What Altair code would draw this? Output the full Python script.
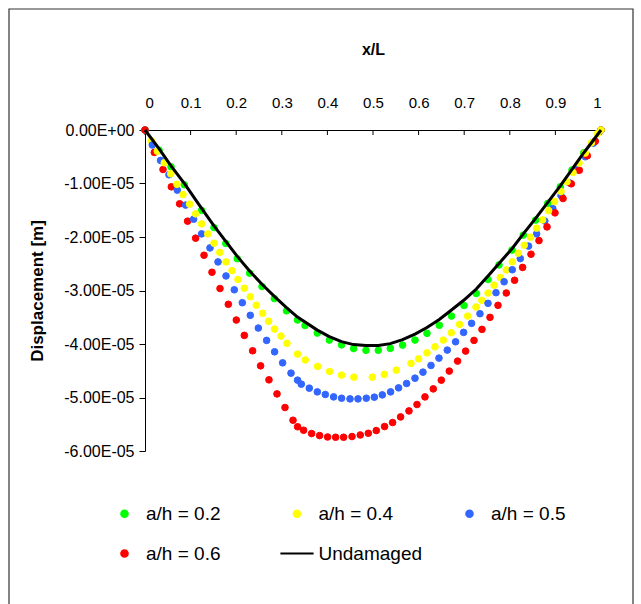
import altair as alt
import pandas as pd

# ---------------- data (displacements in units of 1e-5 m) ----------------
SCALE = 1e-5

x_02 = [0.0, 0.0307, 0.057, 0.0862, 0.1241, 0.1513, 0.1772, 0.2024, 0.2294, 0.2566,
        0.2836, 0.3103, 0.3344, 0.3509, 0.3779, 0.4042, 0.4309, 0.4575, 0.4846, 0.5116,
        0.5379, 0.5649, 0.5921, 0.6184, 0.6454, 0.6721, 0.6996, 0.7265, 0.7522, 0.7763,
        0.8048, 0.8296, 0.8566, 0.8833, 0.9107, 0.9364, 0.9623, 0.9816, 1.0]
y_02 = [0.0, -0.375, -0.689, -1.024, -1.502, -1.824, -2.120, -2.406, -2.676, -2.925,
        -3.150, -3.380, -3.552, -3.655, -3.796, -3.927, -4.017, -4.086, -4.118, -4.118,
        -4.082, -4.021, -3.927, -3.801, -3.650, -3.478, -3.281, -3.056, -2.794, -2.522,
        -2.245, -1.964, -1.684, -1.371, -1.062, -0.747, -0.425, -0.232, 0.0]

x_04 = [0.0, 0.0138, 0.027, 0.0423, 0.0566, 0.070, 0.0833, 0.0978, 0.111, 0.1241,
        0.1377, 0.1513, 0.164, 0.1776, 0.1908, 0.2039, 0.2178, 0.2309, 0.2441, 0.2579,
        0.2711, 0.2842, 0.2982, 0.3114, 0.3346, 0.3515, 0.3785, 0.4048, 0.4311, 0.4579,
        0.4985, 0.5248, 0.5511, 0.5833, 0.600, 0.6184, 0.636, 0.6542, 0.6717, 0.6899,
        0.7075, 0.7259, 0.7386, 0.7522, 0.7656, 0.7792, 0.7923, 0.8055, 0.8186, 0.8318,
        0.8456, 0.8588, 0.8719, 0.8851, 0.8982, 0.9123, 0.9254, 0.9386, 0.9518, 0.9656,
        0.9787, 0.9925, 1.0]
y_04 = [0.0, -0.200, -0.397, -0.612, -0.818, -1.015, -1.206, -1.386, -1.567, -1.755,
        -1.942, -2.116, -2.288, -2.466, -2.629, -2.794, -2.957, -3.116, -3.275, -3.427,
        -3.575, -3.721, -3.852, -3.987, -4.189, -4.298, -4.419, -4.513, -4.582, -4.620,
        -4.620, -4.569, -4.489, -4.363, -4.277, -4.165, -4.052, -3.927, -3.790, -3.633,
        -3.478, -3.309, -3.184, -3.047, -2.901, -2.757, -2.616, -2.463, -2.303, -2.154,
        -2.004, -1.835, -1.680, -1.506, -1.337, -1.150, -0.968, -0.794, -0.618, -0.431,
        -0.243, -0.069, 0.0]

x_05 = [0.0, 0.016, 0.0342, 0.0526, 0.0708, 0.089, 0.1066, 0.1241, 0.1425, 0.1601,
        0.1776, 0.1958, 0.2134, 0.2309, 0.2485, 0.2667, 0.2842, 0.3018, 0.3202, 0.3346,
        0.3428, 0.3603, 0.3779, 0.3954, 0.4136, 0.4311, 0.4496, 0.4671, 0.4853, 0.5029,
        0.5204, 0.5386, 0.5561, 0.5737, 0.5921, 0.6096, 0.6272, 0.6447, 0.6629, 0.6811,
        0.6987, 0.7162, 0.7346, 0.7522, 0.7697, 0.7875, 0.8055, 0.823, 0.8412, 0.8588,
        0.8768, 0.8943, 0.9123, 0.9305, 0.948, 0.9656, 0.9831, 1.0]
y_05 = [0.0, -0.281, -0.569, -0.837, -1.124, -1.404, -1.667, -1.942, -2.204, -2.466,
        -2.728, -2.987, -3.228, -3.464, -3.702, -3.933, -4.146, -4.352, -4.545, -4.676,
        -4.751, -4.826, -4.895, -4.944, -4.989, -5.013, -5.026, -5.026, -5.013, -4.994,
        -4.951, -4.895, -4.820, -4.738, -4.639, -4.526, -4.401, -4.264, -4.114, -3.959,
        -3.783, -3.614, -3.434, -3.240, -3.041, -2.837, -2.612, -2.404, -2.170, -1.942,
        -1.702, -1.468, -1.225, -0.987, -0.743, -0.500, -0.247, 0.0]

x_06 = [0.0, 0.0204, 0.0395, 0.0577, 0.0759, 0.0934, 0.111, 0.1294, 0.1469, 0.1645,
        0.1827, 0.2002, 0.2178, 0.236, 0.2535, 0.2719, 0.2895, 0.307, 0.3246, 0.3346,
        0.3478, 0.3654, 0.3829, 0.4004, 0.418, 0.4355, 0.454, 0.4721, 0.4897, 0.5072,
        0.5254, 0.543, 0.5605, 0.5789, 0.5965, 0.614, 0.6322, 0.6498, 0.6673, 0.6855,
        0.7031, 0.7215, 0.739, 0.7566, 0.7741, 0.7923, 0.8105, 0.8281, 0.8465, 0.864,
        0.8816, 0.8991, 0.9167, 0.9349, 0.9524, 0.970, 0.9875, 1.0]
y_06 = [0.0, -0.419, -0.738, -1.062, -1.380, -1.704, -2.022, -2.341, -2.659, -2.963,
        -3.258, -3.552, -3.839, -4.127, -4.408, -4.670, -4.933, -5.187, -5.425, -5.547,
        -5.612, -5.674, -5.712, -5.738, -5.743, -5.743, -5.730, -5.700, -5.669, -5.618,
        -5.543, -5.468, -5.363, -5.251, -5.131, -4.989, -4.839, -4.676, -4.507, -4.320,
        -4.133, -3.933, -3.727, -3.502, -3.277, -3.047, -2.809, -2.569, -2.322, -2.067,
        -1.811, -1.549, -1.281, -1.006, -0.753, -0.481, -0.210, 0.0]

x_und = [0.0, 0.0307, 0.057, 0.0862, 0.1241, 0.1513, 0.1772, 0.2024, 0.2294, 0.2566,
         0.2836, 0.3103, 0.3344, 0.3779, 0.4042, 0.4309, 0.4575, 0.4846, 0.5116, 0.5379,
         0.5649, 0.5921, 0.6184, 0.6454, 0.6721, 0.6996, 0.7265, 0.7522, 0.7763, 0.8048,
         0.8296, 0.8566, 0.8833, 0.9107, 0.9364, 0.9623, 0.9816, 1.0]
y_und = [0.0, -0.350, -0.669, -0.996, -1.464, -1.792, -2.082, -2.363, -2.635, -2.884,
         -3.109, -3.318, -3.496, -3.740, -3.861, -3.955, -4.011, -4.030, -4.026, -3.993,
         -3.918, -3.815, -3.693, -3.543, -3.365, -3.178, -2.972, -2.728, -2.494, -2.219,
         -1.942, -1.652, -1.352, -1.043, -0.734, -0.425, -0.210, 0.0]

series_names = ["a/h = 0.2", "a/h = 0.4", "a/h = 0.5", "a/h = 0.6", "Undamaged"]
series_colors = ["#00ff00", "#ffff00", "#3366ff", "#ff0000", "#000000"]
# legend glyphs: dots for the damaged cases, a short line for the undamaged beam
series_shapes = ["circle", "circle", "circle", "circle", "M-5,0H5"]

x_ticks = [0, 0.1, 0.2, 0.3, 0.4, 0.5, 0.6, 0.7, 0.8, 0.9, 1]
y_ticks = [0, -1e-5, -2e-5, -3e-5, -4e-5, -5e-5, -6e-5]

# ---------------- tables ----------------
rows = []
for name, xs, ys in zip(series_names[:4], [x_02, x_04, x_05, x_06], [y_02, y_04, y_05, y_06]):
    for i, (xv, yv) in enumerate(zip(xs, ys)):
        rows.append({"series": name, "x": xv, "y": yv * SCALE, "order": i})
pts = pd.DataFrame(rows)
und = pd.DataFrame({"x": x_und, "y": [v * SCALE for v in y_und]})
ticks_df = pd.DataFrame({"x": x_ticks})

FONT = "Liberation Sans"

x_scale = alt.Scale(domain=[0, 1], nice=False, zero=False)
y_scale = alt.Scale(domain=[-6e-5, 0], nice=False)

x_axis = alt.Axis(orient="top", values=x_ticks, format="~g", title="x/L",
                  ticks=False, tickSize=0, labelPadding=20, titlePadding=38,
                  labelFont=FONT, labelFontSize=15, labelColor="black",
                  titleFont=FONT, titleFontSize=16, titleFontWeight="bold",
                  titleColor="black", domainColor="black", domainWidth=1, grid=False)
y_axis = alt.Axis(values=y_ticks, title="Displacement [m]",
                  labelExpr="datum.value == 0 ? '0.00E+00' : '-' + format(abs(datum.value) * 100000, '.2f') + 'E-05'",
                  tickSize=6, tickColor="black", tickWidth=1, labelPadding=5, titlePadding=17,
                  labelFont=FONT, labelFontSize=16, labelColor="black",
                  titleFont=FONT, titleFontSize=17, titleFontWeight="bold",
                  titleColor="black", domainColor="black", domainWidth=1, grid=False)

frame = alt.Chart(alt.Data(values=[{"a": 1}])).mark_rect(
    fill=None, stroke="#333333", strokeWidth=1.2
).encode(x=alt.value(-136), x2=alt.value(488), y=alt.value(-121), y2=alt.value(490))

tick_marks = alt.Chart(ticks_df).mark_rule(color="black", strokeWidth=1).encode(
    x=alt.X("x:Q", scale=x_scale, axis=x_axis),
    y=alt.value(0), y2=alt.value(5)
)

legend = alt.Legend(title=None, orient="none", legendX=-30, legendY=374, columns=3,
                    direction="horizontal",
                    columnPadding=25.5, rowPadding=20, gridAlign="all",
                    labelFont=FONT, labelFontSize=19, labelColor="black", labelOffset=12,
                    symbolSize=44, symbolStrokeWidth=2, symbolOpacity=1)

points = alt.Chart(pts).mark_point(filled=True, opacity=1, strokeWidth=1, size=44).encode(
    x=alt.X("x:Q", scale=x_scale, axis=x_axis),
    y=alt.Y("y:Q", scale=y_scale, axis=y_axis),
    color=alt.Color("series:N", scale=alt.Scale(domain=series_names, range=series_colors), legend=legend),
    stroke=alt.Stroke("series:N", scale=alt.Scale(domain=series_names, range=series_colors), legend=legend),
    shape=alt.Shape("series:N", scale=alt.Scale(domain=series_names, range=series_shapes), legend=legend),
    order=alt.Order("order:Q"),
)

line = alt.Chart(und).mark_line(color="black", strokeWidth=3).encode(
    x=alt.X("x:Q", scale=x_scale, axis=x_axis),
    y=alt.Y("y:Q", scale=y_scale, axis=y_axis),
)

chart = alt.layer(frame, tick_marks, points, line).properties(
    width=456, height=321,
    autosize=alt.AutoSizeParams(type="none"),
    padding={"left": 145, "top": 130, "right": 40, "bottom": 153},
    background="white",
).configure_view(stroke=None)

chart.save("out.html", embed_options={"renderer": "svg", "actions": False})
